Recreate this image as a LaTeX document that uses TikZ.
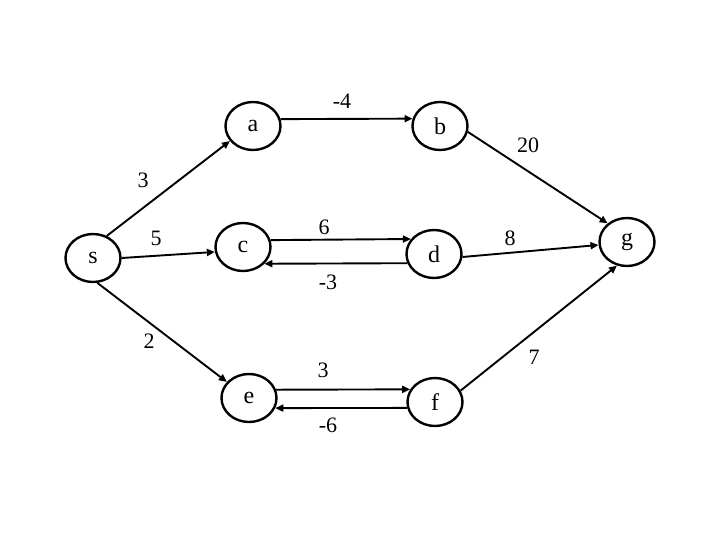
\documentclass[tikz,border=0pt]{standalone}
\usepackage{fontspec}
\setmainfont{Liberation Serif}
\usetikzlibrary{shapes.geometric,arrows.meta}
\begin{document}
\begin{tikzpicture}[x=1pt,y=-1pt,
  vert/.style={ellipse,draw,line width=2.4pt,minimum width=55pt,minimum height=48pt,inner sep=0pt,font=\fontsize{24}{26}\selectfont},
  wt/.style={inner sep=0pt,font=\fontsize{22}{24}\selectfont},
  arc/.style={line width=1.9pt,-{Triangle[length=8pt,width=7pt]}}]
\useasboundingbox (0,0) rectangle (720,540);
\node[vert] (a) at (253,126) {a};
\node[vert] (b) at (440,126) {b};
\node[vert] (s) at (93,258) {s};
\node[vert] (c) at (243,247) {c};
\node[vert] (d) at (434,254) {d};
\node[vert] (g) at (627,242) {g};
\node[vert] (e) at (249,398) {e};
\node[vert] (f) at (435,402) {f};
\draw[arc] (s.58) -- (a.213);
\draw[arc] (a.14.9) -- (b.165.1);
\draw[arc] (s.0) -- (c.190.5);
\draw[arc] (c.14.9) -- (d.147.9);
\draw[arc] (d.199.4) -- (c.-38);
\draw[arc] (b.-12) -- (g.136);
\draw[arc] (d.-6) -- (g.186);
\draw[arc] (s.280) -- (e.144.5);
\draw[arc] (e.17.1) -- (f.153.2);
\draw[arc] (f.192.7) -- (e.-21.8);
\draw[arc] (f.24) -- (g.247);
\node[wt] (w1) at (342,101) {-4};
\node[wt] (w2) at (528,145) {20};
\node[wt] (w3) at (143,180) {3};
\node[wt] (w4) at (156,238) {5};
\node[wt] (w5) at (324,227) {6};
\node[wt] (w6) at (328,282) {-3};
\node[wt] (w7) at (510,238) {8};
\node[wt] (w8) at (149,341) {2};
\node[wt] (w9) at (323,370) {3};
\node[wt] (w10) at (328,425) {-6};
\node[wt] (w11) at (534,357) {7};
\end{tikzpicture}
\end{document}
